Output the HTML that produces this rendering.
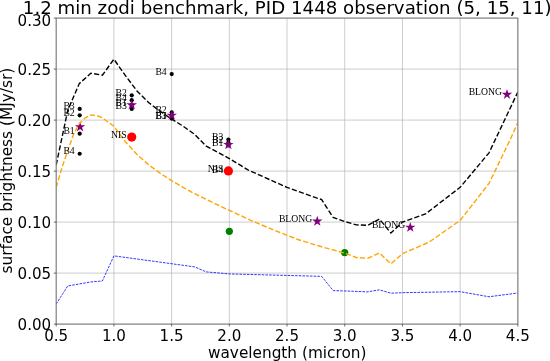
<!DOCTYPE html><html><head><meta charset="utf-8"><title>zodi benchmark</title><style>html,body{margin:0;padding:0;background:#fff}svg{display:block;will-change:transform}text{font-family:"DejaVu Sans","Liberation Sans",sans-serif;fill:#000}.s{font-family:"Liberation Serif","DejaVu Serif",serif;font-size:9.7px}</style></head><body>
<svg width="550" height="361" viewBox="0 0 550 361">
<rect width="550" height="361" fill="#fff"/>
<line x1="56.20" x2="56.20" y1="18.1" y2="324.1" stroke="#b0b0b0" stroke-width="0.65"/>
<line x1="113.91" x2="113.91" y1="18.1" y2="324.1" stroke="#b0b0b0" stroke-width="0.65"/>
<line x1="171.61" x2="171.61" y1="18.1" y2="324.1" stroke="#b0b0b0" stroke-width="0.65"/>
<line x1="229.32" x2="229.32" y1="18.1" y2="324.1" stroke="#b0b0b0" stroke-width="0.65"/>
<line x1="287.03" x2="287.03" y1="18.1" y2="324.1" stroke="#b0b0b0" stroke-width="0.65"/>
<line x1="344.73" x2="344.73" y1="18.1" y2="324.1" stroke="#b0b0b0" stroke-width="0.65"/>
<line x1="402.44" x2="402.44" y1="18.1" y2="324.1" stroke="#b0b0b0" stroke-width="0.65"/>
<line x1="460.14" x2="460.14" y1="18.1" y2="324.1" stroke="#b0b0b0" stroke-width="0.65"/>
<line x1="517.85" x2="517.85" y1="18.1" y2="324.1" stroke="#b0b0b0" stroke-width="0.65"/>
<line x1="56.2" x2="517.85" y1="324.10" y2="324.10" stroke="#b0b0b0" stroke-width="0.65"/>
<line x1="56.2" x2="517.85" y1="273.10" y2="273.10" stroke="#b0b0b0" stroke-width="0.65"/>
<line x1="56.2" x2="517.85" y1="222.10" y2="222.10" stroke="#b0b0b0" stroke-width="0.65"/>
<line x1="56.2" x2="517.85" y1="171.10" y2="171.10" stroke="#b0b0b0" stroke-width="0.65"/>
<line x1="56.2" x2="517.85" y1="120.10" y2="120.10" stroke="#b0b0b0" stroke-width="0.65"/>
<line x1="56.2" x2="517.85" y1="69.10" y2="69.10" stroke="#b0b0b0" stroke-width="0.65"/>
<line x1="56.2" x2="517.85" y1="18.10" y2="18.10" stroke="#b0b0b0" stroke-width="0.65"/>
<clipPath id="c"><rect x="56.2" y="18.1" width="461.65000000000003" height="306.0"/></clipPath>
<g clip-path="url(#c)">
<circle cx="79.69" cy="133.67" r="2.1" fill="#000"/>
<circle cx="79.69" cy="115.31" r="2.1" fill="#000"/>
<circle cx="79.69" cy="108.88" r="2.1" fill="#000"/>
<circle cx="79.69" cy="153.76" r="2.1" fill="#000"/>
<circle cx="131.74" cy="104.90" r="2.1" fill="#000"/>
<circle cx="131.74" cy="95.31" r="2.1" fill="#000"/>
<circle cx="131.74" cy="108.88" r="2.1" fill="#000"/>
<circle cx="131.74" cy="100.21" r="2.1" fill="#000"/>
<circle cx="171.72" cy="118.16" r="2.1" fill="#000"/>
<circle cx="171.72" cy="112.45" r="2.1" fill="#000"/>
<circle cx="171.72" cy="118.57" r="2.1" fill="#000"/>
<circle cx="171.72" cy="74.10" r="2.1" fill="#000"/>
<circle cx="228.40" cy="145.40" r="2.1" fill="#000"/>
<circle cx="228.40" cy="142.54" r="2.1" fill="#000"/>
<circle cx="228.40" cy="139.58" r="2.1" fill="#000"/>
<circle cx="228.40" cy="172.53" r="2.1" fill="#000"/>
<circle cx="131.74" cy="137.03" r="4.6" fill="#f00"/>
<circle cx="228.40" cy="170.90" r="4.6" fill="#f00"/>
<circle cx="229.32" cy="231.28" r="3.6" fill="#008000"/>
<circle cx="344.73" cy="252.70" r="3.6" fill="#008000"/>
<polygon points="80.09,121.43 81.33,125.23 85.32,125.23 82.09,127.58 83.32,131.38 80.09,129.03 76.86,131.38 78.09,127.58 74.86,125.23 78.86,125.23" fill="#800080"/>
<polygon points="131.74,99.50 132.97,103.30 136.97,103.30 133.74,105.65 134.97,109.45 131.74,107.10 128.50,109.45 129.74,105.65 126.51,103.30 130.50,103.30" fill="#800080"/>
<polygon points="171.72,109.91 172.95,113.71 176.95,113.71 173.71,116.06 174.95,119.86 171.72,117.51 168.48,119.86 169.72,116.06 166.49,113.71 170.48,113.71" fill="#800080"/>
<polygon points="228.40,139.18 229.63,142.98 233.63,142.98 230.39,145.33 231.63,149.13 228.40,146.78 225.16,149.13 226.40,145.33 223.16,142.98 227.16,142.98" fill="#800080"/>
<polygon points="317.26,215.78 318.50,219.58 322.49,219.58 319.26,221.93 320.50,225.73 317.26,223.38 314.03,225.73 315.27,221.93 312.03,219.58 316.03,219.58" fill="#800080"/>
<polygon points="410.29,221.90 411.52,225.70 415.52,225.70 412.28,228.05 413.52,231.85 410.29,229.50 407.05,231.85 408.29,228.05 405.05,225.70 409.05,225.70" fill="#800080"/>
<polygon points="507.00,89.00 508.24,92.80 512.23,92.80 509.00,95.15 510.23,98.95 507.00,96.60 503.77,98.95 505.00,95.15 501.77,92.80 505.77,92.80" fill="#800080"/>
<polyline points="56.20,164.98 67.74,110.41 79.28,83.58 90.82,73.18 102.37,75.22 113.91,59.21 125.45,75.63 136.99,90.93 148.53,102.45 160.07,111.33 171.61,118.98 183.15,126.22 194.69,134.38 206.24,146.11 229.32,158.55 248.36,170.08 287.03,187.42 321.65,199.66 333.19,217.51 344.73,221.49 356.27,224.85 367.81,225.36 379.36,219.04 390.90,233.01 402.44,222.10 425.52,213.94 460.14,187.32 489.00,152.84 517.85,92.05" fill="none" stroke="#000" stroke-width="1.4" stroke-dasharray="5.18 2.24"/>
<polyline points="56.20,187.42 61.97,167.53 67.74,150.70 73.51,134.38 79.28,123.67 85.05,118.06 90.82,115.00 96.59,115.51 102.37,117.86 113.91,126.22 125.45,141.83 136.99,154.47 148.53,164.67 160.07,173.14 171.61,180.59 183.15,187.42 194.69,193.74 206.24,199.46 217.78,204.96 229.32,210.37 252.40,221.08 275.48,230.77 298.57,239.75 321.65,246.78 344.73,253.11 356.27,257.49 367.81,258.31 379.36,252.90 390.90,263.92 402.44,253.72 428.98,242.19 460.14,220.47 489.00,183.44 509.77,140.50 517.85,122.55" fill="none" stroke="#ffa500" stroke-width="1.4" stroke-dasharray="5.18 2.24"/>
<polyline points="56.20,304.01 67.74,285.95 90.82,281.97 102.37,280.95 113.91,255.86 194.69,266.88 206.24,271.88 229.32,273.92 321.65,276.36 333.19,290.64 344.73,290.95 367.81,291.87 379.36,289.83 390.90,293.19 402.44,292.68 460.14,291.66 489.00,296.76 517.85,292.99" fill="none" stroke="#0000ff" stroke-width="0.8" stroke-dasharray="2.59 1.12"/>
</g>
<text class="s" x="74.69" y="134.27" text-anchor="end">B1</text>
<text class="s" x="74.69" y="115.91" text-anchor="end">B2</text>
<text class="s" x="74.69" y="109.48" text-anchor="end">B3</text>
<text class="s" x="74.69" y="154.36" text-anchor="end">B4</text>
<text class="s" x="126.74" y="105.50" text-anchor="end">B1</text>
<text class="s" x="126.74" y="95.91" text-anchor="end">B2</text>
<text class="s" x="126.74" y="109.48" text-anchor="end">B3</text>
<text class="s" x="126.74" y="100.81" text-anchor="end">B4</text>
<text class="s" x="166.72" y="118.76" text-anchor="end">B1</text>
<text class="s" x="166.72" y="113.05" text-anchor="end">B2</text>
<text class="s" x="166.72" y="119.17" text-anchor="end">B3</text>
<text class="s" x="166.72" y="74.70" text-anchor="end">B4</text>
<text class="s" x="223.40" y="146.00" text-anchor="end">B1</text>
<text class="s" x="223.40" y="143.14" text-anchor="end">B2</text>
<text class="s" x="223.40" y="140.18" text-anchor="end">B3</text>
<text class="s" x="223.40" y="173.13" text-anchor="end">B4</text>
<text class="s" x="126.74" y="137.63" text-anchor="end">NIS</text>
<text class="s" x="223.40" y="171.50" text-anchor="end">NIS</text>
<text class="s" x="312.26" y="221.88" text-anchor="end">BLONG</text>
<text class="s" x="405.29" y="228.00" text-anchor="end">BLONG</text>
<text class="s" x="502.00" y="95.10" text-anchor="end">BLONG</text>
<rect x="56.2" y="18.1" width="461.65000000000003" height="306.0" fill="none" stroke="#7c7c7c" stroke-width="1"/>
<line x1="56.20" x2="56.20" y1="324.1" y2="326.55" stroke="#000" stroke-width="0.56"/>
<text x="56.20" y="340.7" font-size="15.1" text-anchor="middle">0.5</text>
<line x1="113.91" x2="113.91" y1="324.1" y2="326.55" stroke="#000" stroke-width="0.56"/>
<text x="113.91" y="340.7" font-size="15.1" text-anchor="middle">1.0</text>
<line x1="171.61" x2="171.61" y1="324.1" y2="326.55" stroke="#000" stroke-width="0.56"/>
<text x="171.61" y="340.7" font-size="15.1" text-anchor="middle">1.5</text>
<line x1="229.32" x2="229.32" y1="324.1" y2="326.55" stroke="#000" stroke-width="0.56"/>
<text x="229.32" y="340.7" font-size="15.1" text-anchor="middle">2.0</text>
<line x1="287.03" x2="287.03" y1="324.1" y2="326.55" stroke="#000" stroke-width="0.56"/>
<text x="287.03" y="340.7" font-size="15.1" text-anchor="middle">2.5</text>
<line x1="344.73" x2="344.73" y1="324.1" y2="326.55" stroke="#000" stroke-width="0.56"/>
<text x="344.73" y="340.7" font-size="15.1" text-anchor="middle">3.0</text>
<line x1="402.44" x2="402.44" y1="324.1" y2="326.55" stroke="#000" stroke-width="0.56"/>
<text x="402.44" y="340.7" font-size="15.1" text-anchor="middle">3.5</text>
<line x1="460.14" x2="460.14" y1="324.1" y2="326.55" stroke="#000" stroke-width="0.56"/>
<text x="460.14" y="340.7" font-size="15.1" text-anchor="middle">4.0</text>
<line x1="517.85" x2="517.85" y1="324.1" y2="326.55" stroke="#000" stroke-width="0.56"/>
<text x="517.85" y="340.7" font-size="15.1" text-anchor="middle">4.5</text>
<line x1="53.75" x2="56.2" y1="324.10" y2="324.10" stroke="#000" stroke-width="0.56"/>
<text x="51.2" y="329.60" font-size="15.1" text-anchor="end">0.00</text>
<line x1="53.75" x2="56.2" y1="273.10" y2="273.10" stroke="#000" stroke-width="0.56"/>
<text x="51.2" y="278.60" font-size="15.1" text-anchor="end">0.05</text>
<line x1="53.75" x2="56.2" y1="222.10" y2="222.10" stroke="#000" stroke-width="0.56"/>
<text x="51.2" y="227.60" font-size="15.1" text-anchor="end">0.10</text>
<line x1="53.75" x2="56.2" y1="171.10" y2="171.10" stroke="#000" stroke-width="0.56"/>
<text x="51.2" y="176.60" font-size="15.1" text-anchor="end">0.15</text>
<line x1="53.75" x2="56.2" y1="120.10" y2="120.10" stroke="#000" stroke-width="0.56"/>
<text x="51.2" y="125.60" font-size="15.1" text-anchor="end">0.20</text>
<line x1="53.75" x2="56.2" y1="69.10" y2="69.10" stroke="#000" stroke-width="0.56"/>
<text x="51.2" y="74.60" font-size="15.1" text-anchor="end">0.25</text>
<line x1="53.75" x2="56.2" y1="18.10" y2="18.10" stroke="#000" stroke-width="0.56"/>
<text x="51.2" y="25.70" font-size="15.1" text-anchor="end">0.30</text>
<text x="287.2" y="357.5" font-size="15.3" text-anchor="middle">wavelength (micron)</text>
<text transform="translate(11.8 170.6) rotate(-90)" font-size="15.35" text-anchor="middle">surface brightness (MJy/sr)</text>
<text x="287.2" y="14.3" font-size="18.2" text-anchor="middle">1.2 min zodi benchmark, PID 1448 observation (5, 15, 11)</text>
</svg></body></html>
